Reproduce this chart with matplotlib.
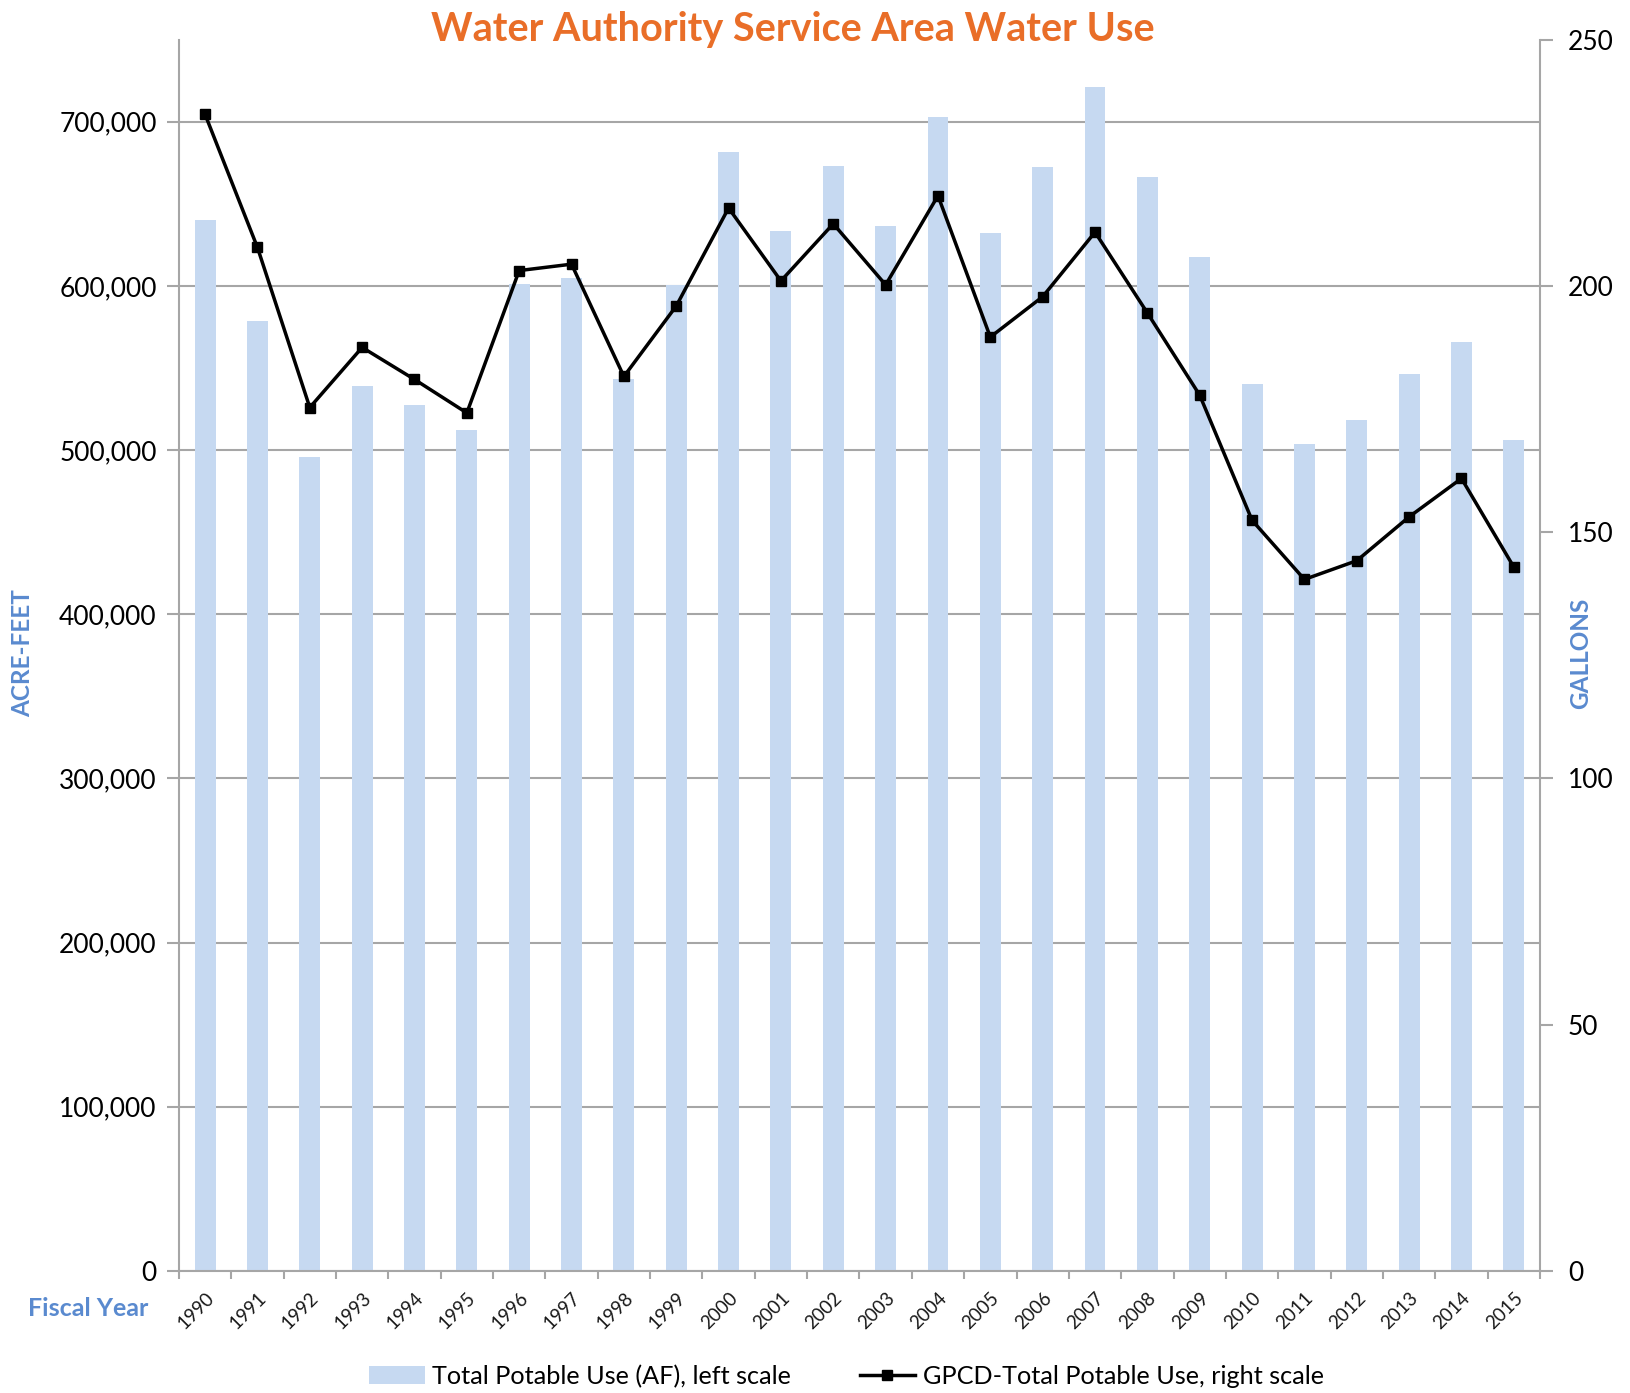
import matplotlib
matplotlib.use("Agg")
from matplotlib import pyplot as plt
from matplotlib.ticker import FuncFormatter, FixedLocator
import numpy as np

years = [str(y) for y in range(1990, 2016)]
potable_af = [640400, 578400, 496000, 539100, 527700, 511900, 601000, 604500,
              543000, 600500, 681700, 633600, 672900, 636500, 702600, 632100,
              672200, 720900, 666500, 617700, 540400, 503600, 518200, 546100,
              565700, 506200]
gpcd = [234.8, 207.8, 175.3, 187.5, 181.0, 174.2, 203.1, 204.4, 181.6, 195.9,
        215.8, 201.0, 212.6, 200.2, 218.3, 189.6, 197.8, 210.9, 194.5, 177.8,
        152.4, 140.4, 144.2, 153.1, 160.9, 142.9]
left_ticks = [0, 100000, 200000, 300000, 400000, 500000, 600000, 700000]
right_ticks = [0, 50, 100, 150, 200, 250]

plt.rcParams['font.family'] = ['Lato', 'DejaVu Sans']

blue_txt = '#5A8ACF'
grey = '#A6A6A6'

fig = plt.figure(figsize=(16.31, 13.93), dpi=100)
ax = fig.add_axes([0.1097, 0.0876, 0.8345, 0.884])
ax2 = ax.twinx()

x = np.arange(len(years))
ax.bar(x, potable_af, width=0.4, color='#C6D9F1', zorder=2,
       label='Total Potable Use (AF), left scale')
ax.set_axisbelow(True)
ax.set_xlim(-0.5, len(years) - 0.5)
ax.set_ylim(0, 750000)
ax.yaxis.set_major_locator(FixedLocator(left_ticks))
ax.yaxis.set_major_formatter(FuncFormatter(lambda v, p: f"{v:,.0f}"))
ax.grid(axis='y', color=grey, linewidth=1.5)

ax2.plot(x, gpcd, color='black', linewidth=2.5, marker='s', markersize=7,
         label='GPCD-Total Potable Use, right scale')
ax2.set_ylim(0, 250)
ax2.yaxis.set_major_locator(FixedLocator(right_ticks))

# spines: only left, bottom, right, all grey
for a in (ax, ax2):
    a.spines['top'].set_visible(False)
ax.spines['right'].set_visible(False)
ax2.spines['left'].set_visible(False)
ax2.spines['bottom'].set_visible(False)
for s in ('left', 'bottom'):
    ax.spines[s].set_color(grey)
    ax.spines[s].set_linewidth(1.5)
ax2.spines['right'].set_color(grey)
ax2.spines['right'].set_linewidth(1.5)

# labels at the bars, tick marks between the categories
ax.set_xticks(x)
ax.set_xticklabels(years, fontsize=13.5, color='#1a1a1a')
ax.tick_params(axis='x', which='major', length=0, pad=13)
ax.set_xticks(np.arange(-0.5, len(years)), minor=True)
ax.tick_params(axis='x', which='minor', length=6, width=1.5, color=grey,
               direction='out')
plt.setp(ax.get_xticklabels(), rotation=45, ha='right', va='top',
         rotation_mode='anchor')
ax.tick_params(axis='y', length=9, width=1.5, color=grey, labelsize=19, pad=7)
ax2.tick_params(axis='y', length=9, width=1.5, color=grey, labelsize=19, pad=11)

fig.text(0.486, 0.979, 'Water Authority Service Area Water Use', ha='center',
         va='center', fontsize=28.5, fontweight='bold', color='#E96E28')
fig.text(0.014, 0.531, 'ACRE-FEET', rotation=90, ha='center', va='center',
         fontsize=17.5, fontweight='bold', color=blue_txt)
fig.text(0.969, 0.531, 'GALLONS', rotation=90, ha='center', va='center',
         fontsize=17.5, fontweight='bold', color=blue_txt)
fig.text(0.054, 0.061, 'Fiscal Year', ha='center', va='center',
         fontsize=18, fontweight='bold', color=blue_txt)

h1, l1 = ax.get_legend_handles_labels()
h2, l2 = ax2.get_legend_handles_labels()
fig.legend(h1 + h2, l1 + l2, loc='center', bbox_to_anchor=(0.519, 0.012),
           ncol=2, frameon=False, fontsize=18.2, handlelength=2.2,
           handletextpad=0.3, columnspacing=2.7)

fig.savefig('out.png', dpi=100)
